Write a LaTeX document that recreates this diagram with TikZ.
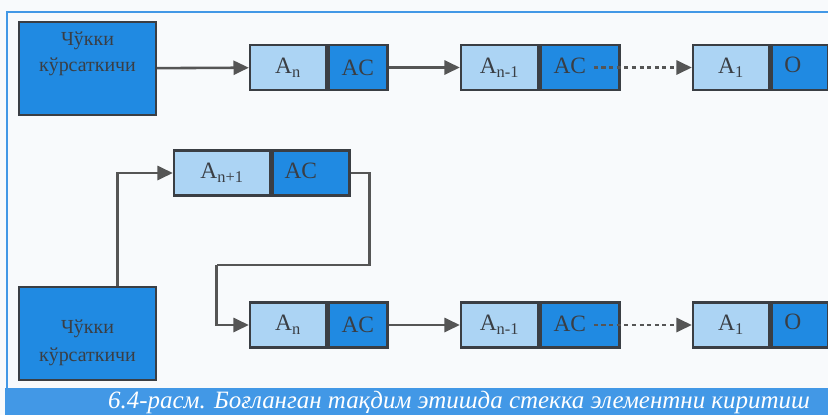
\documentclass[tikz,border=0pt]{standalone}
\usepackage{fontspec}
\setmainfont{Liberation Serif}
\usetikzlibrary{arrows.meta,positioning}

\definecolor{cellblue}{RGB}{32,138,226}
\definecolor{celllight}{RGB}{172,212,244}
\definecolor{boxline}{RGB}{58,62,68}
\definecolor{linkgray}{RGB}{85,85,85}
\definecolor{framebl}{RGB}{66,152,230}
\definecolor{paper}{RGB}{248,250,252}

\tikzset{
  ptrbox/.style={draw=boxline,fill=cellblue,line width=2pt,minimum width=4.11cm,minimum height=2.79cm},
  ptrtext/.style={align=center,inner sep=0pt,text=boxline,font=\fontsize{17}{22}\selectfont},
  datacell/.style={draw=boxline,fill=celllight,line width=2pt,minimum height=1.35cm,inner sep=0pt,text=boxline,font=\fontsize{20}{22}\selectfont},
  linkcell/.style={datacell,fill=cellblue},
  link/.style={draw=linkgray,line width=2.2pt,-{Triangle[length=4.6mm,width=4.2mm]}},
  dotlink/.style={link,dash pattern=on 3.5pt off 3pt},
  wire/.style={draw=linkgray,line width=2.2pt}
}

\begin{document}
\begin{tikzpicture}[x=0.03cm,y=-0.03cm]
  \useasboundingbox (0,0) rectangle (828,415);
  \fill[paper] (0,0) rectangle (828,415);
  \draw[framebl,line width=2.4pt] (7,388) -- (7,12) -- (828,12);

  % stack pointers
  \node[ptrbox] (top1) at (87.5,68.5) {};
  \node[ptrtext,anchor=north] (toptext1) at (87.5,32) {Чўкки\\кўрсаткичи};
  \node[ptrbox] (top2) at (87.5,333.5) {};
  \node[ptrtext,font=\fontsize{17}{24}\selectfont] (toptext2) at (87.5,343) {Чўкки\\кўрсаткичи};

  % the two chains
  \foreach \row/\y in {1/67.5,2/325}{
    \node[datacell,minimum width=2.28cm] (an\row) at (288,\y) {A\textsubscript{n}};
    \node[linkcell,minimum width=1.77cm,right=0pt of an\row] (ac\row) {AC};
    \node[datacell,minimum width=2.31cm] (am\row) at (499.5,\y) {A\textsubscript{n-1}};
    \node[linkcell,minimum width=2.37cm,right=0pt of am\row] (acm\row)
      {\raisebox{3pt}{AC}\hspace*{0.6cm}};
    \node[datacell,minimum width=2.28cm] (a\row) at (731,\y) {A\textsubscript{1}};
    \node[linkcell,minimum width=1.71cm,right=0pt of a\row] (o\row)
      {\raisebox{5pt}{O}\hspace*{0.42cm}};
    \draw[link] (ac\row) -- (am\row);
    \draw[dotlink] ([xshift=-0.8cm]acm\row.east) -- (a\row);
  }

  % new element
  \node[datacell,minimum width=2.88cm] (anew) at (222,173) {A\textsubscript{n+1}};
  \node[linkcell,minimum width=2.31cm,right=0pt of anew] (acnew)
    {\raisebox{4pt}{AC}\hspace*{0.6cm}};

  \draw[link] (top1) -- (an1);
  \draw[link] ([xshift=0.9cm]top2.north) |- (anew);
  \draw[wire] (acnew.east) -- ++(19,0) -- ++(0,92) -- ++(-153,0) coordinate (drop);
  \draw[link] (drop) |- (an2);

  % caption
  \fill[framebl] (5,388) rectangle (828,415);
  \node[anchor=west,text=white,font=\itshape\fontsize{21.3}{24}\selectfont] (caption) at (104,402)
    {6.4-расм. Боғланган тақдим этишда стекка элементни киритиш};
\end{tikzpicture}
\end{document}
